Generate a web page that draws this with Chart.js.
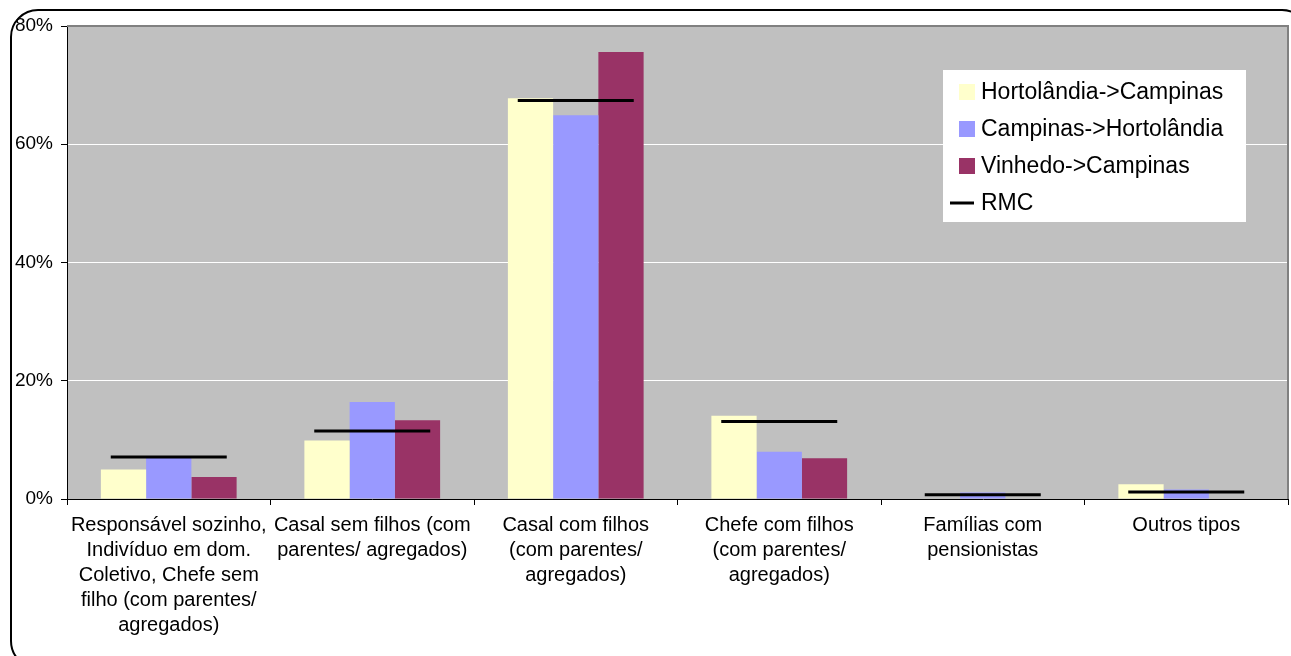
<!DOCTYPE html>
<html>
<head>
<meta charset="utf-8">
<script src="https://cdn.jsdelivr.net/npm/chart.js@4"></script>
<style>
  html, body { margin: 0; padding: 0; background: #fff; }
  #wrap { position: relative; width: 1291px; height: 656px; overflow: hidden; }
  #frame { position: absolute; left: 10px; top: 9px; width: 1300px; height: 660px;
           border: 2px solid #000; border-radius: 28px; box-sizing: border-box; }
  #grafico { position: absolute; left: 0; top: 0; }
</style>
</head>
<body>
<div id="wrap">
  <div id="frame"></div>
  <canvas id="grafico" width="1291" height="656"></canvas>
</div>
<script>
// categorias (tipos de familia)
var categorias = [
    ["Responsável sozinho,", "Indivíduo em dom.", "Coletivo, Chefe sem", "filho (com parentes/", "agregados)"],
    ["Casal sem filhos (com", "parentes/ agregados)"],
    ["Casal com filhos", "(com parentes/", "agregados)"],
    ["Chefe com filhos", "(com parentes/", "agregados)"],
    ["Famílias com", "pensionistas"],
    ["Outros tipos"]
];

var nomesSeries = ["Hortolândia->Campinas", "Campinas->Hortolândia", "Vinhedo->Campinas", "RMC"];

// valores em %
var hortolandiaCampinas = [5.0, 9.9, 67.8, 14.1, 0.0, 2.5];
var campinasHortolandia = [7.0, 16.4, 64.9, 8.0, 1.1, 1.6];
var vinhedoCampinas = [3.7, 13.3, 75.6, 6.9, 0.0, 0.0];
var rmc = [7.1, 11.5, 67.4, 13.1, 0.7, 1.2];

var ticksY = [0, 20, 40, 60, 80];

var cores = ['#FFFFCC', '#9999FF', '#993366', '#000000'];
var fonte = "'Liberation Sans', Arial, sans-serif";

// fundo cinza da area de plotagem
var fundoPlot = {
    id: 'fundoPlot',
    beforeDraw: function (chart) {
        var a = chart.chartArea;
        var ctx = chart.ctx;
        ctx.save();
        ctx.fillStyle = '#C0C0C0';
        ctx.fillRect(a.left, a.top, a.right - a.left, a.bottom - a.top);
        ctx.restore();
    },
    afterDraw: function (chart) {
        var a = chart.chartArea;
        var ctx = chart.ctx;
        ctx.save();
        ctx.strokeStyle = '#808080';
        ctx.lineWidth = 2;
        ctx.beginPath();
        ctx.moveTo(a.left, a.top);
        ctx.lineTo(a.right, a.top);
        ctx.lineTo(a.right, a.bottom);
        ctx.stroke();
        ctx.restore();
    }
};

// legenda dentro do grafico, como no Excel
var legendaCaixa = {
    id: 'legendaCaixa',
    afterDraw: function (chart) {
        var ctx = chart.ctx;
        var x = 943, y = 70, w = 303, h = 152;
        ctx.save();
        ctx.fillStyle = '#fff';
        ctx.fillRect(x, y, w, h);
        ctx.font = '23px ' + fonte;
        ctx.textBaseline = 'middle';
        for (var i = 0; i < nomesSeries.length; i++) {
            var cy = y + 22 + i * 37;
            if (i < 3) {
                ctx.fillStyle = cores[i];
                ctx.fillRect(x + 16, cy - 8, 16, 16);
            } else {
                ctx.strokeStyle = '#000';
                ctx.lineWidth = 3;
                ctx.beginPath();
                ctx.moveTo(x + 7, cy);
                ctx.lineTo(x + 31, cy);
                ctx.stroke();
            }
            ctx.fillStyle = '#000';
            ctx.fillText(nomesSeries[i], x + 38, cy + 1);
        }
        ctx.restore();
    }
};

var ctx = document.getElementById('grafico').getContext('2d');
var grafico = new Chart(ctx, {
    type: 'bar',
    data: {
        labels: categorias,
        datasets: [
            { label: nomesSeries[0], data: hortolandiaCampinas, backgroundColor: cores[0], order: 1 },
            { label: nomesSeries[1], data: campinasHortolandia, backgroundColor: cores[1], order: 1 },
            { label: nomesSeries[2], data: vinhedoCampinas, backgroundColor: cores[2], order: 1 },
            {
                type: 'line', label: nomesSeries[3], data: rmc, order: 0,
                showLine: false, pointStyle: 'line', pointRadius: 58, pointHoverRadius: 58,
                pointBorderWidth: 3, pointHoverBorderWidth: 3,
                borderColor: cores[3], backgroundColor: cores[3], clip: false
            }
        ]
    },
    options: {
        responsive: false,
        animation: false,
        events: [],
        categoryPercentage: 0.667,
        barPercentage: 1.0,
        layout: { autoPadding: false, padding: { left: 0, top: 26, right: 3, bottom: 0 } },
        plugins: {
            legend: { display: false },
            tooltip: { enabled: false }
        },
        scales: {
            x: {
                grid: { offset: true, drawOnChartArea: false, drawTicks: true, tickLength: 6, tickColor: '#000' },
                border: { color: '#000', width: 1 },
                ticks: { color: '#000', font: { family: fonte, size: 20, lineHeight: 1.25 }, padding: 8, maxRotation: 0, autoSkip: false },
                afterFit: function (s) { s.height = 157; }
            },
            y: {
                min: 0, max: 80,
                afterBuildTicks: function (s) { s.ticks = ticksY.map(function (v) { return { value: v }; }); },
                grid: {
                    color: function (c) { return (c.tick && c.tick.value > 0 && c.tick.value < 80) ? '#FFFFFF' : 'rgba(0,0,0,0)'; },
                    tickColor: '#000', tickLength: 6
                },
                border: { color: '#000', width: 1 },
                ticks: {
                    color: '#000', font: { family: fonte, size: 19 }, padding: 8,
                    callback: function (v) { return v + '%'; }
                },
                afterFit: function (s) { s.width = 67; }
            }
        }
    },
    plugins: [fundoPlot, legendaCaixa]
});
</script>
</body>
</html>
